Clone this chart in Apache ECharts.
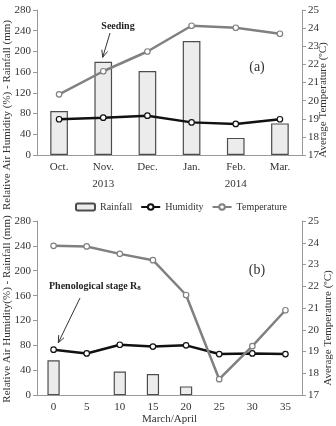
<!DOCTYPE html>
<html>
<head>
<meta charset="utf-8">
<style>
  html, body { margin: 0; padding: 0; background: #fff; }
  #chart { width: 336px; height: 426px; }
</style>
<script src="https://cdn.jsdelivr.net/npm/echarts@6/dist/echarts.min.js"></script>
</head>
<body>
<div id="chart"></div>
<script>
// 数据 - 上图 (a)
var months = ['Oct.', 'Nov.', 'Dec.', 'Jan.', 'Feb.', 'Mar.'];
var years = ['2013', '2014'];
var rainA = [85, 180, 162, 220, 33, 61];
var humA = [69, 72, 76, 63, 60, 69];
var tempA = [20.35, 21.62, 22.71, 24.13, 24.02, 23.69];

// 数据 - 下图 (b)
var days = ['0', '5', '10', '15', '20', '25', '30', '35'];
var rainB = [56, null, 38, 34, 14, null, null, null];
var humB = [73, 67, 81, 78, 80, 66, 67, 66];
var tempB = [23.86, 23.83, 23.49, 23.2, 21.6, 17.73, 19.25, 20.9];

var FONT = 'Liberation Serif';
var TXT = '#333';
var AX = '#999';

var myChart = echarts.init(document.getElementById('chart'));

// 箭头 (线 + 箭头头部)
function arrow(x1, y1, x2, y2) {
    var dx = x2 - x1, dy = y2 - y1;
    var len = Math.sqrt(dx * dx + dy * dy);
    var ux = dx / len, uy = dy / len;
    var bx = x2 - ux * 7, by = y2 - uy * 7;
    return [
        { type: 'line', shape: { x1: x1, y1: y1, x2: x2, y2: y2 }, style: { stroke: '#333', lineWidth: 1 } },
        { type: 'polyline', shape: { points: [[bx - uy * 3, by + ux * 3], [x2, y2], [bx + uy * 3, by - ux * 3]] }, style: { stroke: '#333', lineWidth: 1, fill: null } }
    ];
}

function yLeft(grid) {
    return {
        type: 'value', gridIndex: grid, min: 0, max: 280, interval: 40, position: 'left',
        axisLine: { show: true, lineStyle: { color: AX } },
        axisTick: { show: true, length: 4, lineStyle: { color: AX } },
        splitLine: { show: false },
        axisLabel: { color: TXT, fontFamily: FONT, fontSize: 11, margin: 6 }
    };
}
function yRight(grid) {
    return {
        type: 'value', gridIndex: grid, min: 17, max: 25, interval: 1, position: 'right',
        axisLine: { show: true, lineStyle: { color: AX } },
        axisTick: { show: true, length: 4, lineStyle: { color: AX } },
        splitLine: { show: false },
        axisLabel: { color: TXT, fontFamily: FONT, fontSize: 11, margin: 6 }
    };
}

var barStyle = { color: '#ececec', borderColor: '#4d4d4d', borderWidth: 1.2 };

var option = {
    animation: false,
    backgroundColor: '#fff',
    textStyle: { fontFamily: FONT },
    grid: [
        { left: 37, right: 34, top: 10, height: 145 },
        { left: 37, right: 34, top: 221, height: 175 }
    ],
    legend: {
        data: ['Rainfall', 'Humidity', 'Temperature'],
        left: 70, top: 197,
        itemWidth: 19, itemHeight: 7, itemGap: 8,
        textStyle: { color: TXT, fontFamily: FONT, fontSize: 10 }
    },
    xAxis: [
        {
            type: 'category', gridIndex: 0, data: months,
            axisLine: { lineStyle: { color: AX } },
            axisTick: { length: 17, interval: 0, lineStyle: { color: AX } },
            axisLabel: { color: TXT, fontFamily: FONT, fontSize: 11, margin: 7 }
        },
        {
            type: 'category', gridIndex: 0, data: years, position: 'bottom',
            axisLine: { show: false },
            axisTick: { length: 35, interval: 0, lineStyle: { color: AX } },
            axisLabel: { color: TXT, fontFamily: FONT, fontSize: 11, margin: 24 }
        },
        {
            type: 'category', gridIndex: 1, data: days,
            axisLine: { lineStyle: { color: AX } },
            axisTick: { length: 4, interval: 0, lineStyle: { color: AX } },
            axisLabel: { color: TXT, fontFamily: FONT, fontSize: 11, margin: 7 },
            name: 'March/April', nameLocation: 'middle', nameGap: 18,
            nameTextStyle: { color: TXT, fontFamily: FONT, fontSize: 11 }
        }
    ],
    yAxis: [yLeft(0), yRight(0), yLeft(1), yRight(1)],
    series: [
        { name: 'Rainfall', type: 'bar', xAxisIndex: 0, yAxisIndex: 0, data: rainA, barWidth: '40%', itemStyle: barStyle },
        {
            name: 'Humidity', type: 'line', xAxisIndex: 0, yAxisIndex: 0, data: humA,
            symbol: 'circle', symbolSize: 5.5, lineStyle: { color: '#111', width: 2.5 },
            itemStyle: { color: '#fff', borderColor: '#111', borderWidth: 1.2 }
        },
        {
            name: 'Temperature', type: 'line', xAxisIndex: 0, yAxisIndex: 1, data: tempA,
            symbol: 'circle', symbolSize: 5.5, lineStyle: { color: '#808080', width: 2.5 },
            itemStyle: { color: '#fff', borderColor: '#808080', borderWidth: 1.2 }
        },
        { name: 'Rainfall', type: 'bar', xAxisIndex: 2, yAxisIndex: 2, data: rainB, barWidth: '37%', itemStyle: barStyle },
        {
            name: 'Humidity', type: 'line', xAxisIndex: 2, yAxisIndex: 2, data: humB,
            symbol: 'circle', symbolSize: 5.5, lineStyle: { color: '#111', width: 2.5 },
            itemStyle: { color: '#fff', borderColor: '#111', borderWidth: 1.2 }
        },
        {
            name: 'Temperature', type: 'line', xAxisIndex: 2, yAxisIndex: 3, data: tempB,
            symbol: 'circle', symbolSize: 5.5, lineStyle: { color: '#808080', width: 2.5 },
            itemStyle: { color: '#fff', borderColor: '#808080', borderWidth: 1.2 }
        }
    ],
    graphic: [
        // 轴标题
        { type: 'text', x: 7, y: 115, rotation: Math.PI / 2,
          style: { text: 'Relative Air Humidity (%) - Rainfall (mm)', fill: TXT, font: '11px "Liberation Serif"', align: 'center', verticalAlign: 'middle' } },
        { type: 'text', x: 323, y: 100, rotation: Math.PI / 2,
          style: { text: 'Average Temperature (ºC)', fill: TXT, font: '11px "Liberation Serif"', align: 'center', verticalAlign: 'middle' } },
        { type: 'text', x: 7, y: 309, rotation: Math.PI / 2,
          style: { text: 'Relative Air Humidity(%) - Rainfall (mm)', fill: TXT, font: '11px "Liberation Serif"', align: 'center', verticalAlign: 'middle' } },
        { type: 'text', x: 328, y: 328, rotation: Math.PI / 2,
          style: { text: 'Average Temperature (ºC)', fill: TXT, font: '11px "Liberation Serif"', align: 'center', verticalAlign: 'middle' } },
        // 注释
        { type: 'text', x: 118, y: 26,
          style: { text: 'Seeding', fill: '#222', font: 'bold 10px "Liberation Serif"', align: 'center', verticalAlign: 'middle' } },
        { type: 'text', x: 257, y: 67,
          style: { text: '(a)', fill: '#333', font: '14px "Liberation Serif"', align: 'center', verticalAlign: 'middle' } },
        { type: 'text', x: 257, y: 270,
          style: { text: '(b)', fill: '#333', font: '14px "Liberation Serif"', align: 'center', verticalAlign: 'middle' } },
        { type: 'text', x: 49, y: 286,
          style: {
              text: '{b|Phenological stage R}{s|8}', verticalAlign: 'middle',
              rich: {
                  b: { fill: '#222', font: 'bold 10px "Liberation Serif"' },
                  s: { fill: '#222', font: 'bold 7px "Liberation Serif"', padding: [5, 0, 0, 0] }
              }
          } }
    ].concat(arrow(110, 33, 102.7, 57.3)).concat(arrow(80, 298, 58.3, 342.7))
};

myChart.setOption(option);
</script>
</body>
</html>
